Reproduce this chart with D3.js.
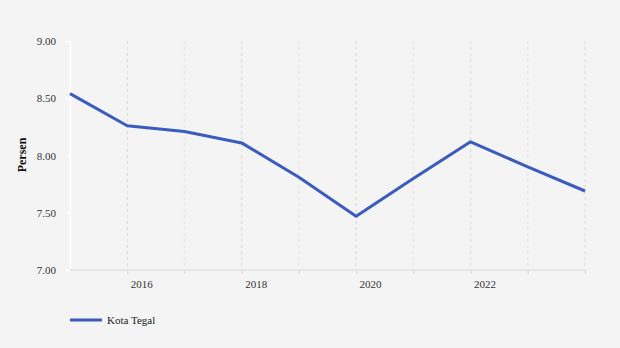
<!DOCTYPE html>
<html><head><meta charset="utf-8">
<script src="https://cdn.jsdelivr.net/npm/d3@7"></script>
<style>body{margin:0;background:#f4f4f4;}svg{display:block;} svg text{font-family:"Liberation Serif","DejaVu Serif",serif !important;}</style>
</head><body>
<script>
const years = [2015,2016,2017,2018,2019,2020,2021,2022,2023,2024];
const values = [8.54,8.26,8.21,8.11,7.81,7.47,7.80,8.12,7.90,7.69];
const seriesName = "Kota Tegal";
const yTicks = [7.00,7.50,8.00,8.50,9.00];
const xTickLabels = [2016,2018,2020,2022];
const yTitle = "Persen";

const W=620,H=348;
const svg=d3.select("body").append("svg").attr("width",W).attr("height",H);
svg.append("rect").attr("width",W).attr("height",H).attr("fill","#f4f4f4");
const x=d3.scaleLinear().domain([2015,2024]).range([70,585]);
const y=d3.scaleLinear().domain([7,9]).range([270,41]);

// vertical dashed grid
svg.append("g").selectAll("line").data(years.slice(1)).join("line")
 .attr("x1",d=>x(d)).attr("x2",d=>x(d)).attr("y1",41).attr("y2",270)
 .attr("stroke",d=>d%2===0?"#dcdcdc":"#e6e6e6").attr("stroke-width",1.2).attr("stroke-dasharray","3,3");

// y axis
const ya=svg.append("g").attr("transform","translate(70,0)")
 .call(d3.axisLeft(y).tickValues(yTicks).tickFormat(d3.format(".2f")).tickSize(4).tickPadding(10));
ya.select(".domain").attr("stroke","#ffffff").attr("stroke-width",1.5);
ya.selectAll(".tick line").attr("stroke","#ffffff").attr("stroke-width",1.5);
ya.selectAll("text").attr("font-size",11).attr("fill","#333");

// x axis
const xa=svg.append("g").attr("transform","translate(0,270)")
 .call(d3.axisBottom(x).tickValues(years.slice(1)).tickFormat(d=>xTickLabels.includes(d)?d:"").tickSize(4).tickPadding(6));
xa.select(".domain").attr("stroke","#e2e2e2").attr("stroke-width",1.5).attr("d","M70,0H585");
xa.selectAll(".tick line").attr("stroke","#dddddd").attr("stroke-width",1.2);
xa.selectAll("text").attr("font-size",11).attr("fill","#333").attr("dx",14);

// y title
svg.append("text").attr("transform","translate(26,155) rotate(-90)").attr("text-anchor","middle")
 .attr("font-size",12).attr("font-weight","bold").attr("fill","#111").text(yTitle);

// line
svg.append("path").datum(values.map((v,i)=>[years[i],v]))
 .attr("fill","none").attr("stroke","#3a5bbf").attr("stroke-width",3).attr("stroke-linejoin","round")
 .attr("d",d3.line().x(d=>x(d[0])).y(d=>y(d[1])));

// legend
svg.append("line").attr("x1",70).attr("x2",102).attr("y1",320).attr("y2",320).attr("stroke","#3a5bbf").attr("stroke-width",3);
svg.append("text").attr("x",107).attr("y",324).attr("font-size",11).attr("fill","#222").text(seriesName);
</script>
</body></html>
